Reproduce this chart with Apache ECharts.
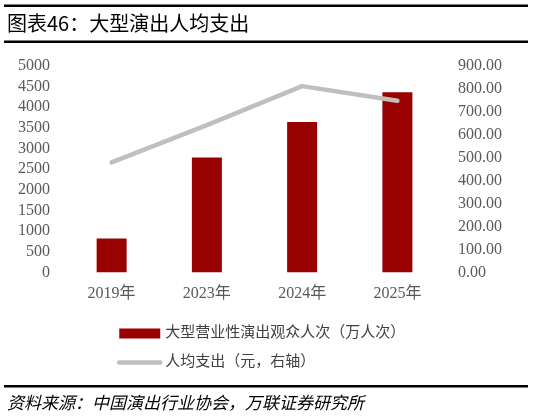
<!DOCTYPE html>
<html><head><meta charset="utf-8">
<script src="https://cdn.jsdelivr.net/npm/echarts@6/dist/echarts.min.js"></script>
<style>html,body{margin:0;padding:0;background:#fff}#c{width:534px;height:419px}</style>
</head><body><div id="c"></div>
<script>
const categories = ['2019年', '2023年', '2024年', '2025年'];
const audience = [815, 2780, 3640, 4360];
const perCapita = [479, 641, 811, 747];
const barName = '大型营业性演出观众人次（万人次）';
const lineName = '人均支出（元，右轴）';
const titleText = '图表46：大型演出人均支出';
const sourceText = '资料来源：中国演出行业协会，万联证券研究所';

const serif = '"Liberation Serif", "Noto Sans CJK SC", serif';
const chart = echarts.init(document.getElementById('c'));
chart.setOption({
  animation: false,
  backgroundColor: '#fff',
  grid: { left: 64, right: 89, top: 65.7, bottom: 146.7, containLabel: false },
  legend: {
    orient: 'vertical', left: 112, top: 321, itemGap: 14,
    itemWidth: 41, itemHeight: 10,
    textStyle: { fontFamily: serif, fontSize: 15, color: '#404040' },
    data: [
      { name: barName, icon: 'rect' },
      { name: lineName, itemStyle: { opacity: 0 }, lineStyle: { width: 4.5, color: '#BFBFBF', cap: 'round' } }
    ]
  },
  xAxis: {
    type: 'category', data: categories,
    axisLine: { show: false }, axisTick: { show: false },
    axisLabel: { fontFamily: serif, fontSize: 16, color: '#595959', margin: 13 }
  },
  yAxis: [
    { type: 'value', min: 0, max: 5000, interval: 500,
      splitLine: { show: false }, axisLine: { show: false }, axisTick: { show: false },
      axisLabel: { fontFamily: serif, fontSize: 16, color: '#595959', margin: 14,
        formatter: v => String(v) } },
    { type: 'value', min: 0, max: 900, interval: 100,
      splitLine: { show: false }, axisLine: { show: false }, axisTick: { show: false },
      axisLabel: { fontFamily: serif, fontSize: 16, color: '#595959', margin: 13,
        formatter: v => v.toFixed(2) } }
  ],
  series: [
    { name: barName, type: 'bar', data: audience, barWidth: 30,
      itemStyle: { color: '#990000' } },
    { name: lineName, type: 'line', yAxisIndex: 1, data: perCapita,
      symbol: 'none', lineStyle: { color: '#BFBFBF', width: 4.5, cap: 'round' },
      itemStyle: { color: '#BFBFBF' } }
  ],
  graphic: [
    { type: 'rect', shape: { x: 4, y: 4.5, width: 524, height: 2.5 }, style: { fill: '#000' } },
    { type: 'rect', shape: { x: 4, y: 40.5, width: 524, height: 2.5 }, style: { fill: '#000' } },
    { type: 'text', left: 7, top: 13, style: { text: titleText, font: '20px "Noto Sans CJK SC", serif', fill: '#000' } },
    { type: 'rect', shape: { x: 4, y: 385, width: 524, height: 2.5 }, style: { fill: '#000' } },
    { type: 'text', left: 7, top: 394, style: { text: sourceText, font: 'italic 17px "Noto Sans CJK SC", serif', fill: '#000' } }
  ]
});
</script></body></html>
